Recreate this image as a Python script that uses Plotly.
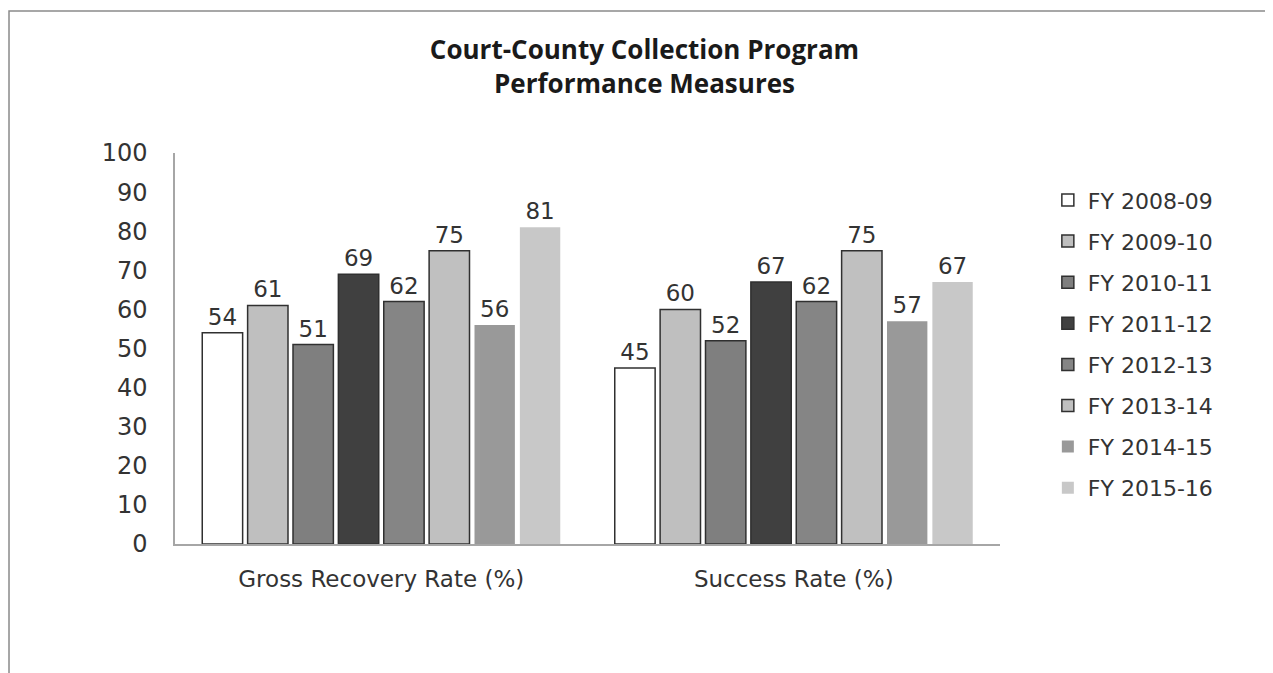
import plotly.graph_objects as go

# Data
categories = ["Gross Recovery Rate (%)", "Success Rate (%)"]
fiscal_years = [
    "FY 2008-09",
    "FY 2009-10",
    "FY 2010-11",
    "FY 2011-12",
    "FY 2012-13",
    "FY 2013-14",
    "FY 2014-15",
    "FY 2015-16",
]
gross_recovery = [54, 61, 51, 69, 62, 75, 56, 81]
success_rate = [45, 60, 52, 67, 62, 75, 57, 67]

fill_colors = ["#ffffff", "#bfbfbf", "#7f7f7f", "#404040", "#858585", "#c0c0c0", "#999999", "#c8c8c8"]
outlined = [True, True, True, True, True, True, False, False]

FONT = "DejaVu Sans"
TEXT_COLOR = "#333333"

fig = go.Figure()
for i, year in enumerate(fiscal_years):
    values = [gross_recovery[i], success_rate[i]]
    fig.add_trace(
        go.Bar(
            name=year,
            x=categories,
            y=values,
            text=values,
            textposition="outside",
            textfont=dict(family=FONT, size=23, color=TEXT_COLOR),
            marker=dict(
                color=fill_colors[i],
                line=dict(color="#303030", width=1.5 if outlined[i] else 0),
            ),
            legendgroup=year,
            cliponaxis=False,
        )
    )

fig.update_layout(
    width=1273,
    height=673,
    barmode="group",
    bargap=0.12,
    bargroupgap=0.11,
    plot_bgcolor="white",
    paper_bgcolor="white",
    font=dict(family=FONT, size=22, color=TEXT_COLOR),
    title=dict(
        text="<b>Court-County Collection Program<br>Performance Measures</b>",
        x=0.5,
        xanchor="center",
        y=0.924,
        yanchor="top",
        font=dict(family="Open Sans", size=26, color="#1a1a1a"),
    ),
    margin=dict(l=167, r=281, t=145, b=137),
    legend=dict(
        x=1.058,
        xanchor="left",
        y=0.933,
        yanchor="top",
        font=dict(family=FONT, size=22, color=TEXT_COLOR),
        tracegroupgap=9.5,
        bgcolor="rgba(0,0,0,0)",
    ),
    showlegend=True,
    hovermode=False,
    # outer frame of the original picture
    shapes=[
        dict(
            type="rect",
            xref="paper",
            yref="paper",
            x0=-0.2012,
            x1=1.4,
            y0=-0.4,
            y1=1.363,
            line=dict(color="#8a8a8a", width=1.5),
            fillcolor="rgba(0,0,0,0)",
            layer="below",
        )
    ],
)
fig.update_yaxes(
    range=[0, 100],
    dtick=10,
    showgrid=False,
    zeroline=False,
    showline=True,
    linecolor="#a6a6a6",
    linewidth=1.5,
    ticks="",
    ticklabelstandoff=21,
    tickfont=dict(family=FONT, size=24, color=TEXT_COLOR),
)
fig.update_xaxes(
    showgrid=False,
    showline=True,
    linecolor="#a6a6a6",
    linewidth=1.5,
    ticks="",
    ticklabelstandoff=14,
    tickfont=dict(family=FONT, size=23, color=TEXT_COLOR),
)

fig.write_html("out.html")
